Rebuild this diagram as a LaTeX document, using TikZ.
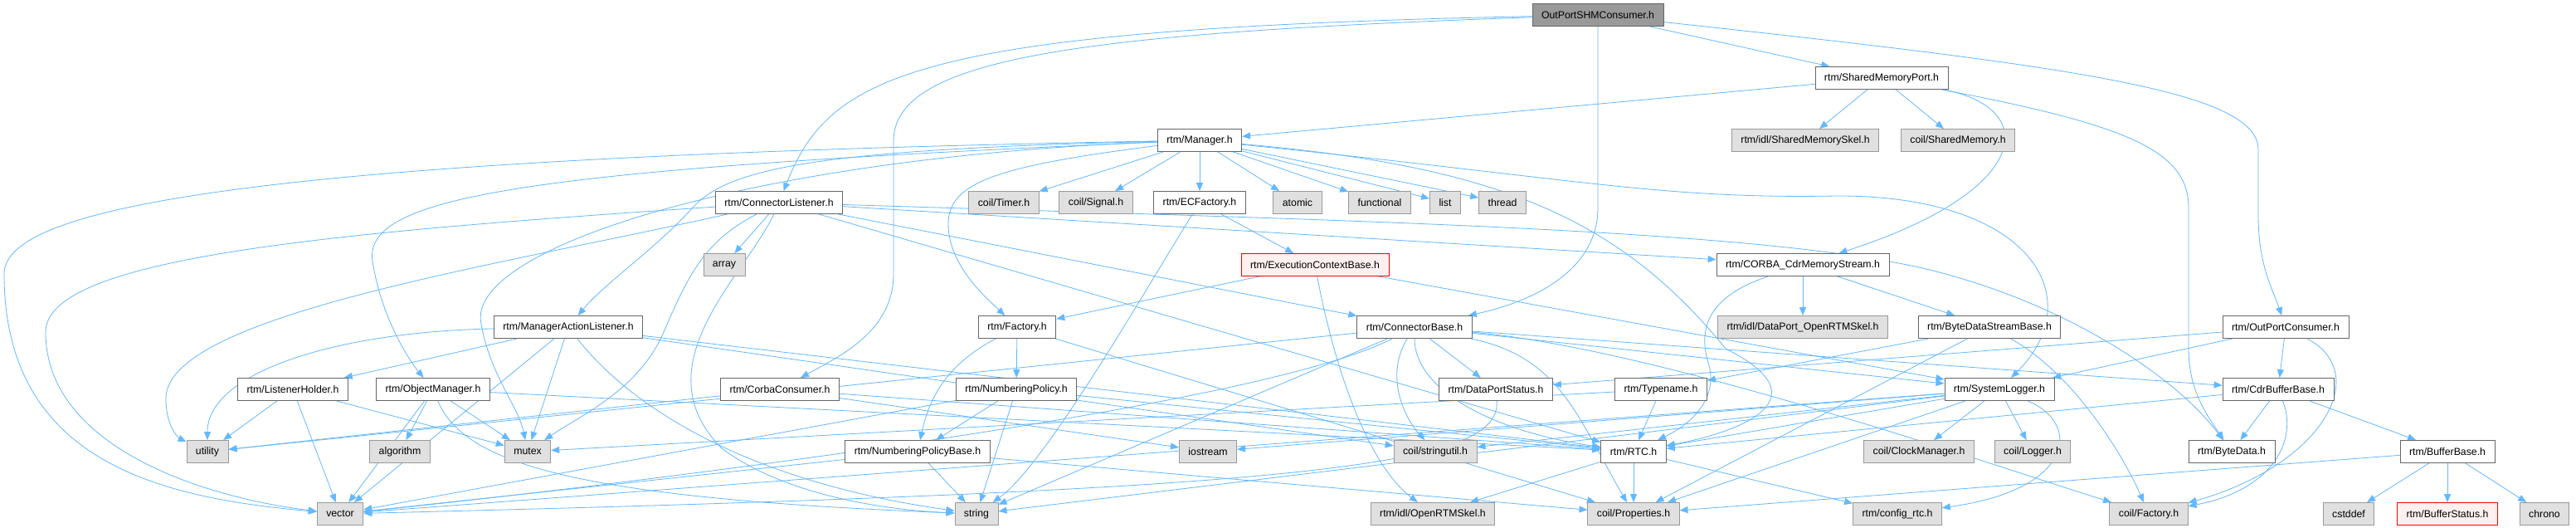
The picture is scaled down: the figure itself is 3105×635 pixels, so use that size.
\documentclass[tikz,border=0pt]{standalone}
\usepackage{fontspec}
\setmainfont{Liberation Sans}
\usepackage{tikz}
\usetikzlibrary{arrows.meta}
\definecolor{edgeblue}{HTML}{63B8FF}
\definecolor{boxline}{HTML}{666666}
\definecolor{sysline}{HTML}{999999}
\definecolor{sysfill}{HTML}{E0E0E0}
\definecolor{rootfill}{HTML}{999999}
\definecolor{redfill}{HTML}{FFF0F0}
\pgfdeclarelayer{edges}
\pgfsetlayers{edges,main}
\tikzset{
  font={\fontsize{12.3pt}{14pt}\selectfont},
  file/.style={draw=boxline, fill=white, line width=0.9pt, shape=rectangle,
    minimum height=27pt, inner xsep=11pt, inner ysep=0pt},
  sysfile/.style={file, draw=sysline, fill=sysfill},
  rootfile/.style={file, fill=rootfill},
  redfile/.style={file, draw=red, fill=redfill},
  incl/.style={draw=edgeblue, line width=0.8pt, -{Triangle[length=10pt,width=8pt]}}
}
\begin{document}
\begin{tikzpicture}[x=1pt, y=-1pt]
  \useasboundingbox (0,0) rectangle (3105,635);
  % row 0 - 2
  \node (root) [rootfile] at (1926,18) {OutPortSHMConsumer.h};
  \node (smport) [file] at (2268,94) {rtm/SharedMemoryPort.h};
  \node (mgr) [file] at (1446,169) {rtm/Manager.h};
  \node (smskel) [sysfile] at (2176,169) {rtm/idl/SharedMemorySkel.h};
  \node (coilshm) [sysfile] at (2360,169) {coil/SharedMemory.h};
  % row 3
  \node (connlis) [file] at (939,244) {rtm/ConnectorListener.h};
  \node (timer) [sysfile] at (1210,244) {coil/Timer.h};
  \node (signal) [sysfile] at (1321,244) {coil/Signal.h};
  \node (ecfact) [file] at (1446,244) {rtm/ECFactory.h};
  \node (atomic) [sysfile] at (1564,244) {atomic};
  \node (functional) [sysfile] at (1663,244) {functional};
  \node (list) [sysfile] at (1742,244) {list};
  \node (thread) [sysfile] at (1811,244) {thread};
  % row 4
  \node (array) [sysfile] at (873,319) {array};
  \node (ecbase) [redfile] at (1585,319) {rtm/ExecutionContextBase.h};
  \node (cdrstream) [file] at (2173,319) {rtm/CORBA\_CdrMemoryStream.h};
  % row 5
  \node (malis) [file] at (685,394) {rtm/ManagerActionListener.h};
  \node (factory) [file] at (1226,394) {rtm/Factory.h};
  \node (connbase) [file] at (1705,394) {rtm/ConnectorBase.h};
  \node (dpskel) [sysfile] at (2173,394) {rtm/idl/DataPort\_OpenRTMSkel.h};
  \node (bdsbase) [file] at (2398,394) {rtm/ByteDataStreamBase.h};
  \node (opcons) [file] at (2755,394) {rtm/OutPortConsumer.h};
  % row 6
  \node (lholder) [file] at (353,469) {rtm/ListenerHolder.h};
  \node (objmgr) [file] at (522,469) {rtm/ObjectManager.h};
  \node (corbacons) [file] at (940,469) {rtm/CorbaConsumer.h};
  \node (numpol) [file] at (1225,469) {rtm/NumberingPolicy.h};
  \node (dpstatus) [file] at (1803,469) {rtm/DataPortStatus.h};
  \node (typename) [file] at (2002,469) {rtm/Typename.h};
  \node (syslog) [file] at (2410,469) {rtm/SystemLogger.h};
  \node (cdrbuf) [file] at (2746,469) {rtm/CdrBufferBase.h};
  % row 7
  \node (utility) [sysfile] at (250,544) {utility};
  \node (algorithm) [sysfile] at (482,544) {algorithm};
  \node (mutex) [sysfile] at (636,544) {mutex};
  \node (numpolbase) [file] at (1106,544) {rtm/NumberingPolicyBase.h};
  \node (iostream) [sysfile] at (1456,544) {iostream};
  \node (strutil) [sysfile] at (1730,544) {coil/stringutil.h};
  \node (rtc) [file] at (1969,544) {rtm/RTC.h};
  \node (clockmgr) [sysfile] at (2313,544) {coil/ClockManager.h};
  \node (logger) [sysfile] at (2450,544) {coil/Logger.h};
  \node (bytedata) [file] at (2690,544) {rtm/ByteData.h};
  \node (bufbase) [file] at (2950,544) {rtm/BufferBase.h};
  % row 8
  \node (vector) [sysfile] at (410,619) {vector};
  \node (string) [sysfile] at (1177,619) {string};
  \node (rtmskel) [sysfile] at (1727,619) {rtm/idl/OpenRTMSkel.h};
  \node (props) [sysfile] at (1969,619) {coil/Properties.h};
  \node (configrtc) [sysfile] at (2287,619) {rtm/config\_rtc.h};
  \node (coilfact) [sysfile] at (2590,619) {coil/Factory.h};
  \node (cstddef) [sysfile] at (2831,619) {cstddef};
  \node (bufstatus) [redfile] at (2950,619) {rtm/BufferStatus.h};
  \node (chrono) [sysfile] at (3067,619) {chrono};

  \begin{pgfonlayer}{edges}
  \fill[white] (0,0) rectangle (3105,635);
  % OutPortSHMConsumer.h
  \draw[incl] (root) -- (smport);
  \draw[incl] (root) .. controls (1100,35) and (1000,90) .. (connlis);
  \draw[incl] (root) .. controls (1300,40) and (1077,70) .. (1077,170) -- (1077,330) .. controls (1077,400) and (1010,430) .. (corbacons);
  \draw[incl] (root) -- (1926,250) .. controls (1926,330) and (1840,365) .. (connbase);
  \draw[incl] (root) .. controls (2500,80) and (2722,110) .. (2722,180) -- (2722,260) .. controls (2722,320) and (2740,350) .. (opcons);
  % SharedMemoryPort.h
  \draw[incl] (smport) -- (mgr);
  \draw[incl] (smport) -- (smskel);
  \draw[incl] (smport) -- (coilshm);
  \draw[incl] (smport) .. controls (2460,130) and (2450,230) .. (cdrstream);
  \draw[incl] (smport) .. controls (2560,150) and (2638,180) .. (2638,250) -- (2638,420) .. controls (2638,470) and (2660,500) .. (bytedata);
  % Manager.h
  \draw[incl] (mgr) -- (timer);
  \draw[incl] (mgr) -- (signal);
  \draw[incl] (mgr) -- (ecfact);
  \draw[incl] (mgr) -- (atomic);
  \draw[incl] (mgr) -- (functional);
  \draw[incl] (mgr) -- (list);
  \draw[incl] (mgr) -- (thread);
  \draw[incl] (mgr) .. controls (1200,200) and (1143,220) .. (1143,270) .. controls (1143,320) and (1190,360) .. (factory);
  \draw[incl] (mgr) .. controls (600,205) and (430,240) .. (450,320) .. controls (460,380) and (490,430) .. (objmgr);
  \draw[incl] (mgr) .. controls (1000,180) and (880,200) .. (835,250) .. controls (790,300) and (730,340) .. (malis);
  \draw[incl] (mgr) .. controls (900,190) and (560,300) .. (580,390) .. controls (590,450) and (625,490) .. (mutex);
  \draw[incl] (mgr) .. controls (300,190) and (5,250) .. (5,330) .. controls (5,560) and (200,600) .. (vector);
  \draw[incl] (mgr) .. controls (1900,215) and (2000,240) .. (2213,236) .. controls (2450,235) and (2520,360) .. (syslog);
  \draw[incl] (mgr) .. controls (1800,200) and (1950,260) .. (2080,420) .. controls (2200,480) and (2100,520) .. (rtc);
  % ConnectorListener.h
  \draw[incl] (connlis) -- (array);
  \draw[incl] (connlis) .. controls (850,290) and (830,330) .. (800,400) .. controls (770,470) and (700,500) .. (mutex);
  \draw[incl] (connlis) .. controls (900,330) and (770,440) .. (870,540) .. controls (950,600) and (1080,615) .. (string);
  \draw[incl] (connlis) .. controls (400,280) and (55,310) .. (55,400) .. controls (55,540) and (250,600) .. (vector);
  \draw[incl] (connlis) .. controls (600,320) and (200,380) .. (200,480) .. controls (200,520) and (220,530) .. (utility);
  \draw[incl] (connlis) -- (connbase);
  \draw[incl] (connlis) -- (cdrstream);
  \draw[incl] (connlis) -- (rtc);
  \draw[incl] (connlis) .. controls (1600,265) and (2100,275) .. (2313,322) .. controls (2480,360) and (2620,450) .. (bytedata);
  % ECFactory.h, ExecutionContextBase.h, CORBA_CdrMemoryStream.h
  \draw[incl] (ecfact) -- (ecbase);
  \draw[incl] (ecfact) .. controls (1380,350) and (1260,560) .. (string);
  \draw[incl] (ecbase) -- (factory);
  \draw[incl] (ecbase) .. controls (1610,450) and (1650,560) .. (rtmskel);
  \draw[incl] (ecbase) -- (syslog);
  \draw[incl] (cdrstream) -- (dpskel);
  \draw[incl] (cdrstream) -- (bdsbase);
  \draw[incl] (cdrstream) .. controls (2080,350) and (2040,380) .. (2060,440) .. controls (2070,480) and (2040,510) .. (rtc);
  % ManagerActionListener.h
  \draw[incl] (malis) -- (lholder);
  \draw[incl] (malis) .. controls (400,400) and (250,450) .. (utility);
  \draw[incl] (malis) -- (vector);
  \draw[incl] (malis) -- (mutex);
  \draw[incl] (malis) .. controls (760,490) and (900,580) .. (string);
  \draw[incl] (malis) -- (strutil);
  \draw[incl] (malis) -- (rtc);
  % Factory.h
  \draw[incl] (factory) -- (numpol);
  \draw[incl] (factory) .. controls (1140,440) and (1120,480) .. (numpolbase);
  \draw[incl] (factory) -- (props);
  % ConnectorBase.h
  \draw[incl] (connbase) -- (dpstatus);
  \draw[incl] (connbase) .. controls (1670,450) and (1690,500) .. (strutil);
  \draw[incl] (connbase) .. controls (1705,470) and (1800,520) .. (rtc);
  \draw[incl] (connbase) .. controls (1880,430) and (1900,500) .. (props);
  \draw[incl] (connbase) -- (syslog);
  \draw[incl] (connbase) -- (cdrbuf);
  \draw[incl] (connbase) .. controls (1500,500) and (600,600) .. (vector);
  \draw[incl] (connbase) -- (string);
  \draw[incl] (connbase) -- (utility);
  \draw[incl] (connbase) .. controls (2000,420) and (2400,560) .. (coilfact);
  % OutPortConsumer.h, ByteDataStreamBase.h
  \draw[incl] (opcons) -- (cdrbuf);
  \draw[incl] (opcons) -- (syslog);
  \draw[incl] (opcons) -- (dpstatus);
  \draw[incl] (opcons) .. controls (2860,450) and (2800,560) .. (coilfact);
  \draw[incl] (bdsbase) -- (typename);
  \draw[incl] (bdsbase) -- (props);
  \draw[incl] (bdsbase) .. controls (2500,450) and (2560,550) .. (coilfact);
  % row 6 sources
  \draw[incl] (lholder) -- (utility);
  \draw[incl] (lholder) -- (vector);
  \draw[incl] (lholder) -- (mutex);
  \draw[incl] (objmgr) -- (vector);
  \draw[incl] (objmgr) -- (algorithm);
  \draw[incl] (objmgr) -- (mutex);
  \draw[incl] (objmgr) .. controls (560,560) and (700,600) .. (string);
  \draw[incl] (objmgr) -- (rtc);
  \draw[incl] (corbacons) -- (utility);
  \draw[incl] (corbacons) -- (rtc);
  \draw[incl] (corbacons) -- (iostream);
  \draw[incl] (numpol) -- (numpolbase);
  \draw[incl] (numpol) -- (string);
  \draw[incl] (numpol) -- (vector);
  \draw[incl] (numpol) -- (rtc);
  \draw[incl] (dpstatus) .. controls (1810,560) and (1600,590) .. (vector);
  \draw[incl] (typename) -- (rtc);
  \draw[incl] (typename) -- (mutex);
  \draw[incl] (syslog) -- (clockmgr);
  \draw[incl] (syslog) -- (logger);
  \draw[incl] (syslog) -- (rtc);
  \draw[incl] (syslog) -- (props);
  \draw[incl] (syslog) -- (strutil);
  \draw[incl] (syslog) -- (string);
  \draw[incl] (syslog) -- (vector);
  \draw[incl] (syslog) -- (iostream);
  \draw[incl] (syslog) .. controls (2510,510) and (2500,590) .. (configrtc);
  \draw[incl] (cdrbuf) -- (bytedata);
  \draw[incl] (cdrbuf) -- (bufbase);
  \draw[incl] (cdrbuf) -- (rtc);
  \draw[incl] (cdrbuf) .. controls (2770,530) and (2740,590) .. (coilfact);
  % row 7 sources
  \draw[incl] (numpolbase) -- (string);
  \draw[incl] (numpolbase) -- (vector);
  \draw[incl] (numpolbase) -- (props);
  \draw[incl] (rtc) -- (props);
  \draw[incl] (rtc) -- (rtmskel);
  \draw[incl] (rtc) -- (configrtc);
  \draw[incl] (bufbase) -- (cstddef);
  \draw[incl] (bufbase) -- (bufstatus);
  \draw[incl] (bufbase) -- (chrono);
  \draw[incl] (bufbase) -- (props);
  \end{pgfonlayer}
\end{tikzpicture}
\end{document}
